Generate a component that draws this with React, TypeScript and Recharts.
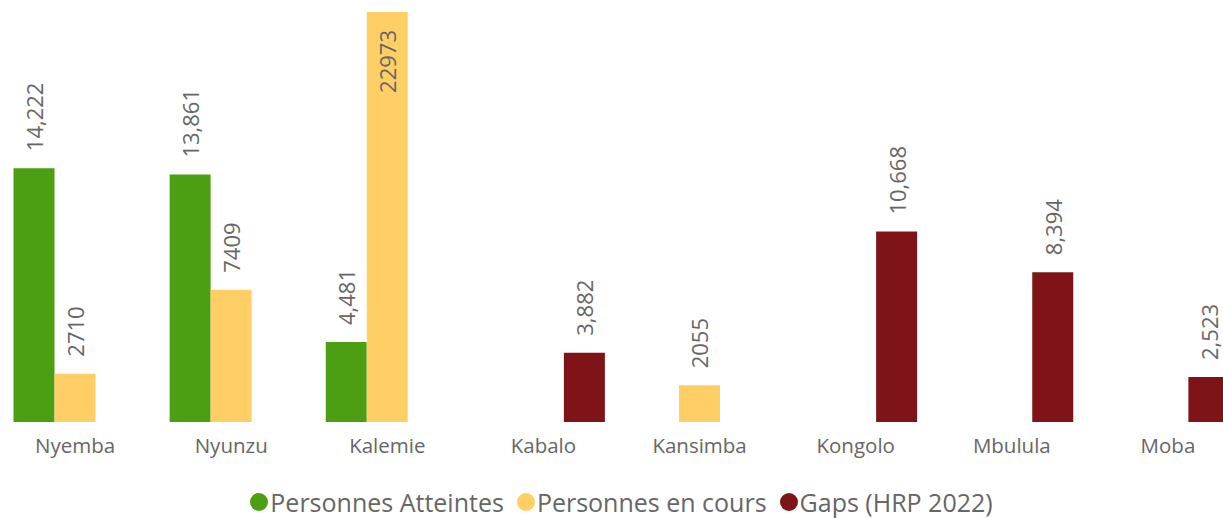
import React from 'react';
import { BarChart, Bar, XAxis, YAxis, Legend, LabelList } from 'recharts';

const categories = ['Nyemba', 'Nyunzu', 'Kalemie', 'Kabalo', 'Kansimba', 'Kongolo', 'Mbulula', 'Moba'];
const atteintes: (number | null)[] = [14222, 13861, 4481, null, null, null, null, null];
const enCours: (number | null)[] = [2710, 7409, 22973, null, 2055, null, null, null];
const gaps: (number | null)[] = [null, null, null, 3882, null, 10668, 8394, 2523];
const seriesNames = ['Personnes Atteintes', 'Personnes en cours', 'Gaps (HRP 2022)'];
const colors = ['#4C9F12', '#FFCF66', '#7E1418'];

const data = categories.map((name, i) => ({
  name,
  atteintes: atteintes[i],
  enCours: enCours[i],
  gaps: gaps[i],
}));

const FONT = '"Open Sans", sans-serif';
const TEXT = '#666666';

const makeLabel = (comma: boolean) => (props: any) => {
  const { x, y, width, value } = props;
  if (value == null || value === 0) return null;
  const text = comma ? Number(value).toLocaleString('en-US') : String(value);
  const cx = Number(x) + Number(width) / 2;
  const estLen = text.length * 13;
  const top = Number(y);
  if (top - 17 - estLen < 0) {
    const ay = top + 18;
    return (
      <text x={cx} y={ay} transform={`rotate(-90 ${cx} ${ay})`} textAnchor="end" dominantBaseline="central"
        fill={TEXT} fontSize={22} fontFamily={FONT}>{text}</text>
    );
  }
  const ay = top - 17;
  return (
    <text x={cx} y={ay} transform={`rotate(-90 ${cx} ${ay})`} textAnchor="start" dominantBaseline="central"
      fill={TEXT} fontSize={22} fontFamily={FONT}>{text}</text>
  );
};

const LegendContent = () => (
  <div style={{ height: 40, boxSizing: 'border-box', paddingBottom: 3, display: 'flex', justifyContent: 'center', alignItems: 'flex-end', fontFamily: FONT, fontSize: 25, color: TEXT }}>
    {seriesNames.map((n, i) => (
      <div key={n} style={{ display: 'flex', alignItems: 'center', marginRight: i < 2 ? 13 : 0, lineHeight: '26px', height: 26 }}>
        <span style={{ display: 'inline-block', width: 18, height: 18, borderRadius: 9, background: colors[i], marginRight: 2 }} />
        <span>{n}</span>
      </div>
    ))}
  </div>
);

export default function App() {
  return (
    <div style={{ position: 'fixed', left: 0, top: 0, width: 1223, height: 518, overflow: 'hidden', background: '#fff' }}>
      <div style={{ position: 'absolute', left: -3, top: 0 }}>
        <BarChart width={1249} height={518} data={data} margin={{ top: 12, right: 0, bottom: 0, left: 0 }}
          barCategoryGap={16.5} barGap={0}>
          <YAxis hide domain={[0, 22973]} />
          <XAxis dataKey="name" interval={0} tickLine={false} axisLine={false} tickSize={0} tickMargin={16} height={56}
            tick={{ fill: TEXT, fontSize: 20.5, fontFamily: FONT }} />
          <Legend verticalAlign="bottom" content={<LegendContent />} wrapperStyle={{ height: 40 }} />
          <Bar dataKey="atteintes" name={seriesNames[0]} fill={colors[0]} isAnimationActive={false}>
            <LabelList dataKey="atteintes" content={makeLabel(true)} />
          </Bar>
          <Bar dataKey="enCours" name={seriesNames[1]} fill={colors[1]} isAnimationActive={false}>
            <LabelList dataKey="enCours" content={makeLabel(false)} />
          </Bar>
          <Bar dataKey="gaps" name={seriesNames[2]} fill={colors[2]} isAnimationActive={false}>
            <LabelList dataKey="gaps" content={makeLabel(true)} />
          </Bar>
        </BarChart>
      </div>
    </div>
  );
}
